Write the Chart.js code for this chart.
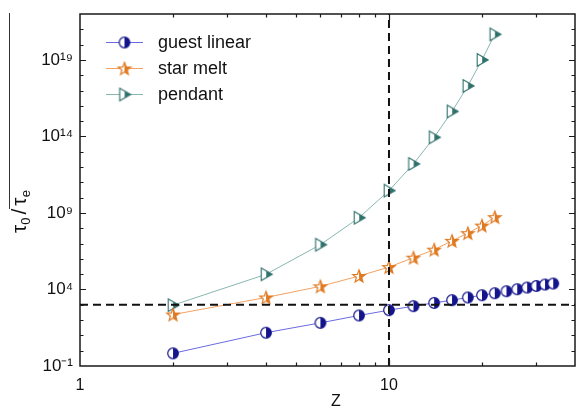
<!DOCTYPE html>
<html><head><meta charset="utf-8">
<script src="https://cdn.jsdelivr.net/npm/chart.js@4.4.1/dist/chart.umd.min.js"></script>
<style>html,body{margin:0;padding:0;background:#fff}canvas{display:block}</style>
</head><body>
<canvas id="c" width="577" height="408"></canvas>
<script>
const zGuest = [2,4,6,8,10,12,14,16,18,20,22,24,26,28,30,32,34];
const tauGuest = [0.67,15,66,200,445,810,1330,2000,3000,4200,5700,7700,10400,13400,17000,21000,24400];
const zStar = [2,4,6,8,10,12,14,16,18,20,22];
const tauStar = [2.3e2,3.0e3,1.6e4,7.6e4,2.9e5,1.2e6,4.0e6,1.5e7,4.8e7,1.5e8,5.3e8];
const zPendant = [2,4,6,8,10,12,14,16,18,20,22];
const tauPendant = [9.4e2,9.8e4,8.5e6,4.9e8,2.9e10,1.6e12,8.7e13,4.3e15,2.0e17,1.0e19,4.7e20];
const seriesNames = ['guest linear','star melt','pendant'];
const xTickValues = [1,2,3,4,5,6,7,8,9,10,20,30,40];
const xTickLabels = {1:'1',10:'10'};
const yExponents = [-1,0,1,2,3,4,5,6,7,8,9,10,11,12,13,14,15,16,17,18,19,20,21,22];
const yTickLabels = {'-1':'10⁻¹','4':'10⁴','9':'10⁹','14':'10¹⁴','19':'10¹⁹'};
const refZ = 10, refTau = 1e3;
const xMin = 1, xMax = 40, yMin = 1e-1, yMax = 1e22;

const FONT = '"Liberation Sans", Arial, sans-serif';
const guestMark = '#14148c', guestLine = '#6a6ae0';
const starMark = '#e07a22', starLine = '#f3a262';
const pendMark = '#2f716c', pendLine = '#88b6b1';

function mk(){ const c=document.createElement('canvas'); c.width=c.height=16; const g=c.getContext('2d'); g.translate(8,8); return [c,g]; }
function mkCircle(col){
  const [c,g]=mk(); const r=5.3;
  g.fillStyle='#fff'; g.beginPath(); g.arc(0,0,r,0,Math.PI*2); g.fill();
  g.fillStyle=col; g.beginPath(); g.arc(0,0,r,-Math.PI/2,Math.PI/2); g.closePath(); g.fill();
  g.strokeStyle=col; g.lineWidth=1.2; g.beginPath(); g.arc(0,0,r,0,Math.PI*2); g.stroke();
  return c;
}
function pathStar(g){
  g.beginPath();
  for(let i=0;i<10;i++){ const r=i%2?2.8:6.6; const a=-Math.PI/2+i*Math.PI/5; const px=r*Math.cos(a), py=r*Math.sin(a)+0.6; i?g.lineTo(px,py):g.moveTo(px,py); }
  g.closePath();
}
function mkStar(col){
  const [c,g]=mk();
  pathStar(g); g.fillStyle='#fff'; g.fill();
  g.save(); g.beginPath(); g.rect(0,-8,8,16); g.clip(); pathStar(g); g.fillStyle=col; g.fill(); g.restore();
  pathStar(g); g.strokeStyle=col; g.lineWidth=1.2; g.stroke();
  return c;
}
function pathTri(g){ g.beginPath(); g.moveTo(-4.8,-6.2); g.lineTo(6.2,0); g.lineTo(-4.8,6.2); g.closePath(); }
function mkTri(col){
  const [c,g]=mk();
  pathTri(g); g.fillStyle='#fff'; g.fill();
  g.save(); g.beginPath(); g.rect(0.2,-8,8,16); g.clip(); pathTri(g); g.fillStyle=col; g.fill(); g.restore();
  pathTri(g); g.strokeStyle=col; g.lineWidth=1.1; g.stroke();
  return c;
}
const icons = [mkCircle(guestMark), mkStar(starMark), mkTri(pendMark)];
const lineCols = [guestLine, starLine, pendLine];

const toPts = (xs,ys)=>xs.map((x,i)=>({x:x,y:ys[i]}));

const decor = {
  id:'decor',
  afterDraw(chart){
    const ctx=chart.ctx, a=chart.chartArea, xs=chart.scales.x, ys=chart.scales.y;
    ctx.save();
    ctx.strokeStyle='#1a1a1a'; ctx.lineWidth=1.5;
    ctx.strokeRect(a.left,a.top,a.right-a.left,a.bottom-a.top);
    ctx.lineWidth=1.2;
    ctx.beginPath();
    yExponents.forEach(e=>{
      const v=Math.pow(10,e); if(v<=yMin||v>=yMax) return;
      const y=Math.round(ys.getPixelForValue(v))+0.5; const L=((e+1)%5===0)?6:3.5;
      ctx.moveTo(a.left,y); ctx.lineTo(a.left+L,y);
      ctx.moveTo(a.right,y); ctx.lineTo(a.right-L,y);
    });
    xTickValues.forEach(v=>{
      if(v<=xMin||v>=xMax) return;
      const x=Math.round(xs.getPixelForValue(v))+0.5; const L=(v===10)?6:3.5;
      ctx.moveTo(x,a.bottom); ctx.lineTo(x,a.bottom-L);
      ctx.moveTo(x,a.top); ctx.lineTo(x,a.top+L);
    });
    ctx.stroke();
    // legend
    const rows=[42,68,94];
    ctx.font='18px '+FONT; ctx.textBaseline='middle'; ctx.textAlign='left';
    rows.forEach((y,i)=>{
      ctx.strokeStyle=lineCols[i]; ctx.lineWidth=1; ctx.beginPath(); ctx.moveTo(106,y+0.5); ctx.lineTo(143,y+0.5); ctx.stroke();
      ctx.drawImage(icons[i],124.5-8,y-8+0.5);
      ctx.fillStyle='#111'; ctx.fillText(seriesNames[i],158,y+1);
    });
    // x title
    ctx.fillStyle='#111'; ctx.font='16px '+FONT; ctx.textAlign='center'; ctx.textBaseline='alphabetic';
    ctx.fillText('Z',336,406);
    // y title
    ctx.strokeStyle='#333'; ctx.lineWidth=1; ctx.beginPath(); ctx.moveTo(9.5,13); ctx.lineTo(9.5,209); ctx.stroke();
    ctx.translate(26,234); ctx.rotate(-Math.PI/2); ctx.textAlign='left';
    let u=1;
    ctx.font='21px '+FONT; ctx.fillText('τ',u,0); u+=ctx.measureText('τ').width;
    ctx.font='13px '+FONT; ctx.fillText('0',u,4); u+=ctx.measureText('0').width+3;
    ctx.font='21px '+FONT; ctx.fillText('/',u,0); u+=ctx.measureText('/').width+3;
    ctx.fillText('τ',u,0); u+=ctx.measureText('τ').width;
    ctx.font='13px '+FONT; ctx.fillText('e',u,4);
    ctx.restore();
  }
};

new Chart(document.getElementById('c'),{
  type:'line',
  data:{datasets:[
    {label:'ref-h',data:[{x:xMin,y:refTau},{x:xMax,y:refTau}],borderColor:'#111',borderWidth:2,borderDash:[8,5],pointRadius:0,fill:false},
    {label:'ref-v',data:[{x:refZ,y:yMin},{x:refZ,y:yMax}],borderColor:'#111',borderWidth:2,borderDash:[8,5],pointRadius:0,fill:false},
    {label:seriesNames[0],data:toPts(zGuest,tauGuest),borderColor:guestLine,borderWidth:1,pointStyle:icons[0],pointRadius:5,fill:false,tension:0},
    {label:seriesNames[1],data:toPts(zStar,tauStar),borderColor:starLine,borderWidth:1,pointStyle:icons[1],pointRadius:5,fill:false,tension:0},
    {label:seriesNames[2],data:toPts(zPendant,tauPendant),borderColor:pendLine,borderWidth:1,pointStyle:icons[2],pointRadius:5,fill:false,tension:0}
  ]},
  options:{
    responsive:false, animation:false, devicePixelRatio:1,
    layout:{autoPadding:false,padding:{left:0,right:2,top:14,bottom:0}},
    plugins:{legend:{display:false},tooltip:{enabled:false}},
    scales:{
      x:{type:'logarithmic',min:xMin,max:xMax,position:'bottom',
        afterFit(s){s.height=42; s.paddingLeft=0; s.paddingRight=0;},
        afterBuildTicks(s){s.ticks=xTickValues.map(v=>({value:v}));},
        grid:{display:false,drawTicks:false},border:{display:false},
        ticks:{autoSkip:false,maxRotation:0,minRotation:0,padding:10,color:'#111',font:{family:FONT,size:16},
          callback(v){return xTickLabels[v]||'';}}},
      y:{type:'logarithmic',min:yMin,max:yMax,position:'left',
        afterFit(s){s.width=80; s.paddingTop=0; s.paddingBottom=0;},
        afterBuildTicks(s){s.ticks=yExponents.map(e=>({value:Math.pow(10,e)}));},
        grid:{display:false,drawTicks:false},border:{display:false},
        ticks:{autoSkip:false,padding:7,color:'#111',font:{family:FONT,size:17},
          callback(v){const e=Math.round(Math.log10(v)); return yTickLabels[String(e)]||'';}}}
    }
  },
  plugins:[decor]
});
</script>
</body></html>
